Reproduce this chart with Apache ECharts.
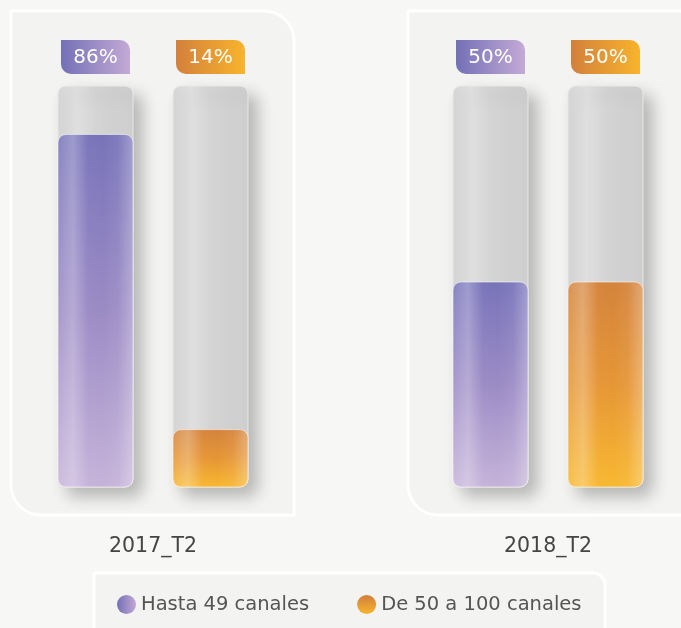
<!DOCTYPE html>
<html>
<head>
<meta charset="utf-8">
<script src="https://cdn.jsdelivr.net/npm/echarts@6/dist/echarts.min.js"></script>
<style>
  html, body { margin: 0; padding: 0; background: #f7f7f5; }
  #chart { width: 681px; height: 628px; }
</style>
</head>
<body>
<div id="chart"></div>
<script>
// Periods and channel-count groups
const periods = ['2017_T2', '2018_T2'];
const groups = ['Hasta 49 canales', 'De 50 a 100 canales'];

// Share (%) of each group per period
const hasta49 = [86, 50];
const de50a100 = [14, 50];

const FONT = '"DejaVu Sans", "Noto Sans", sans-serif';
const BAR_W = 75;
const TRACK_TOP = 97.8;   // value where the grey track ends

const LG = (x1, y1, x2, y2, stops) => new echarts.graphic.LinearGradient(x1, y1, x2, y2,
  stops.map((c, i) => ({ offset: i / (stops.length - 1), color: c })));

const palette = [
  { bar: ['#7873b9', '#9b8bc5', '#c6b3d9'], badge: ['#7370b6', '#c4aad6'], dot: LG(0, 0, 1, 0, ['#736fb5', '#c3a9d6']) },
  { bar: ['#d4833b', '#e69635', '#f8b830'], badge: ['#d3803c', '#f7b42c'], dot: LG(0, 0, 0, 1, ['#d27f3c', '#f6b42d']) }
];

function makeRender(gi) {
  const p = palette[gi];
  return function (params, api) {
    const cat = api.value(0);
    const v = api.value(1);
    const base = api.coord([cat, 0]);
    const full = api.coord([cat, TRACK_TOP]);
    const top = api.coord([cat, v]);
    const x = base[0] - BAR_W / 2;
    return {
      type: 'group',
      children: [
        {
          // empty track
          type: 'rect',
          shape: { x: x, y: full[1], width: BAR_W, height: base[1] - full[1], r: 8 },
          style: {
            fill: LG(0, 0, 1, 0, ['#d6d6d6', '#e0e0e0', '#d4d4d4', '#d0d0d0', '#cfcfcf']),
            stroke: '#e8e8e8', lineWidth: 1,
            shadowBlur: 16, shadowOffsetX: 9, shadowOffsetY: 9,
            shadowColor: 'rgba(0,0,0,0.25)'
          }
        },
        {
          // value bar
          type: 'rect',
          shape: { x: x, y: top[1], width: BAR_W, height: base[1] - top[1], r: 8 },
          style: { fill: LG(0, 0, 0, 1, p.bar), stroke: 'rgba(255,255,255,0.55)', lineWidth: 1 }
        },
        {
          // glossy vertical sheen
          type: 'rect',
          silent: true,
          shape: { x: x, y: top[1], width: BAR_W, height: base[1] - top[1], r: 8 },
          style: {
            fill: LG(0, 0, 1, 0, ['rgba(255,255,255,0.12)', 'rgba(255,255,255,0.28)',
              'rgba(255,255,255,0.02)', 'rgba(255,255,255,0)', 'rgba(255,255,255,0.06)', 'rgba(255,255,255,0.3)'])
          }
        },
        {
          // value badge
          type: 'rect',
          shape: { x: base[0] - 34.5, y: full[1] - 46, width: 69, height: 34, r: [0, 10, 0, 10] },
          style: { fill: LG(0, 0, 1, 0, p.badge) }
        },
        {
          type: 'text',
          style: {
            x: base[0], y: full[1] - 28.5,
            text: v + '%',
            fill: '#ffffff',
            font: '20px ' + FONT,
            align: 'center', verticalAlign: 'middle'
          }
        }
      ]
    };
  };
}

const grids = [
  { left: 38, top: 77, width: 230, height: 410 },
  { left: 433, top: 77, width: 230, height: 410 }
];

const xAxes = periods.map((p, i) => ({
  type: 'category', gridIndex: i, data: groups,
  axisLine: { show: false }, axisTick: { show: false }, axisLabel: { show: false },
  name: p, nameLocation: 'middle', nameGap: 49,
  nameTextStyle: { color: '#454545', fontSize: 20.5, fontFamily: FONT }
}));

const yAxes = periods.map((p, i) => ({
  type: 'value', gridIndex: i, min: 0, max: 100, show: false, splitLine: { show: false }
}));

const series = [];
periods.forEach((p, i) => {
  [hasta49, de50a100].forEach((vals, gi) => {
    series.push({
      type: 'custom',
      name: groups[gi],
      xAxisIndex: i, yAxisIndex: i,
      clip: false,
      itemStyle: { color: palette[gi].dot },
      renderItem: makeRender(gi),
      data: [[gi, vals[i]]]
    });
  });
});

const chart = echarts.init(document.getElementById('chart'));
chart.setOption({
  backgroundColor: '#f7f7f5',
  animation: false,
  graphic: [
    {
      type: 'rect', z: -10,
      shape: { x: 11, y: 11, width: 283, height: 504, r: [0, 30, 0, 30] },
      style: { fill: '#f3f3f1', stroke: '#ffffff', lineWidth: 3 }
    },
    {
      type: 'rect', z: -10,
      shape: { x: 408, y: 11, width: 300, height: 504, r: [0, 30, 0, 30] },
      style: { fill: '#f3f3f1', stroke: '#ffffff', lineWidth: 3 }
    },
    {
      type: 'rect', z: -10,
      shape: { x: 94, y: 573, width: 511, height: 70, r: [2, 12, 0, 12] },
      style: { fill: '#f3f3f1', stroke: '#ffffff', lineWidth: 3 }
    }
  ],
  grid: grids,
  xAxis: xAxes,
  yAxis: yAxes,
  legend: {
    left: 117, top: 594.5, padding: 0,
    icon: 'circle', itemWidth: 19, itemHeight: 19, itemGap: 48,
    textStyle: { color: '#555555', fontSize: 19.5, fontFamily: FONT },
    data: groups.map((g, gi) => ({ name: g, itemStyle: { color: palette[gi].dot } }))
  },
  series: series
});
</script>
</body>
</html>
